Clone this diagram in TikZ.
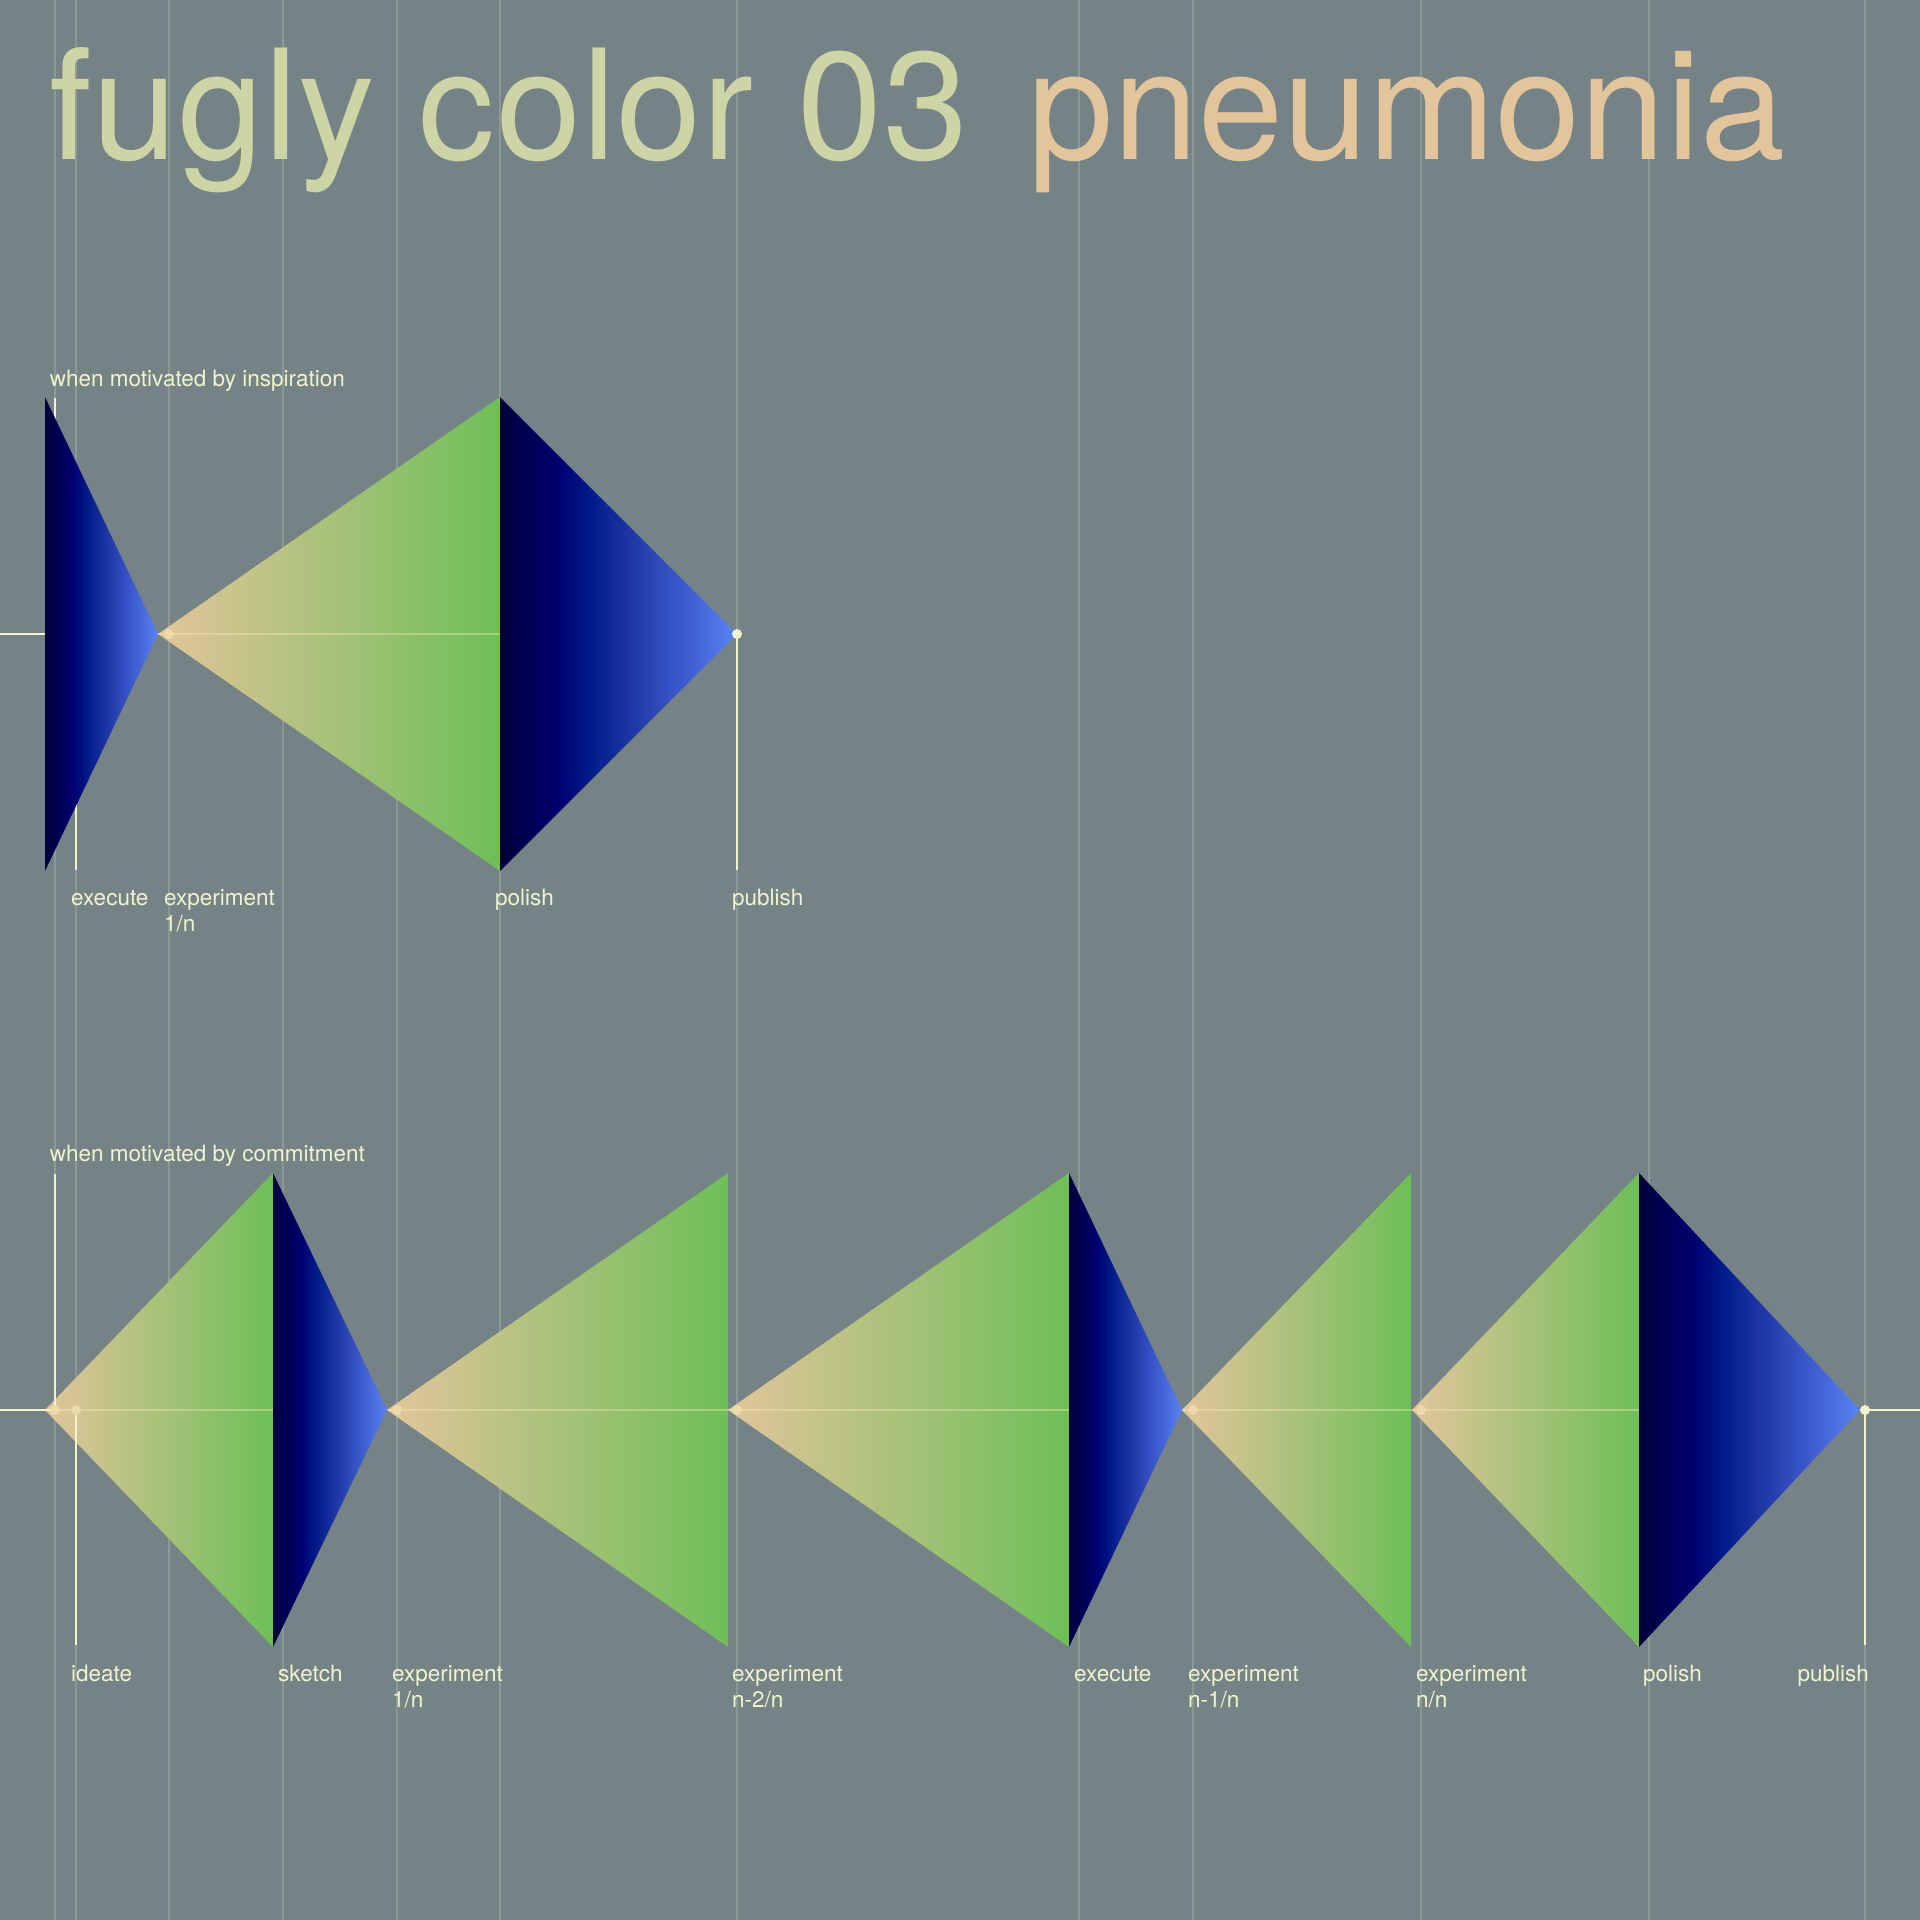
\documentclass[tikz,border=0pt]{standalone}
\usepackage{fontspec}
\setmainfont{TeX Gyre Heros}

\definecolor{slate}{HTML}{758386}
\definecolor{guidegray}{HTML}{8A9996}
\definecolor{sage}{HTML}{CDD5A6}
\definecolor{sand}{HTML}{E3C59B}
\definecolor{leaf}{HTML}{6DBF57}
\definecolor{cream}{HTML}{F0F4CC}
\definecolor{dotsand}{HTML}{EDD9AA}
\definecolor{spinesand}{HTML}{F7E8B8}
\definecolor{navyA}{HTML}{00003C}
\definecolor{navyB}{HTML}{000070}
\definecolor{navyC}{HTML}{001A88}
\definecolor{blueD}{HTML}{1E36A6}
\definecolor{blueE}{HTML}{4060D2}
\definecolor{blueF}{HTML}{5A84F4}

\pgfdeclarehorizontalshading{navyramp}{100bp}{color(0bp)=(navyA); color(25bp)=(navyA); color(37.5bp)=(navyB); color(43.5bp)=(navyC); color(52.5bp)=(blueD); color(65bp)=(blueE); color(75bp)=(blueF); color(100bp)=(blueF)}

\tikzset{
	guide/.style={draw=guidegray, line width=2pt},
	stem/.style={draw=cream, line width=2pt},
	spine/.style={draw=spinesand, line width=2pt, opacity=.4},
	greenfade/.style={left color=sand, right color=leaf},
	bluefade/.style={shading=navyramp},
	knot/.style={fill=dotsand},
	endknot/.style={fill=cream},
	lbl/.style={anchor=base west, inner sep=0pt, text=cream, font=\fontsize{22.5}{26}\selectfont},
	headline/.style={anchor=base west, inner sep=0pt, font=\fontsize{153}{180}\selectfont},
}

\begin{document}
\begin{tikzpicture}[x=1pt,y=-1pt]
	\useasboundingbox (0,0) rectangle (1920,1920);
	\fill[slate] (0,0) rectangle (1920,1920);

	\foreach \gx in {55,76,169,283,397,500,737,1079,1193,1421,1649,1865}
		\draw[guide] (\gx,0) -- (\gx,1920);

	\node[headline, text=sage] (fugly) at (49,159) {\addfontfeatures{LetterSpace=0.6}fugly color 03};
	\node[headline, text=sand] (pneumonia) at (1028,159) {pneumonia};

	% inspiration
	\coordinate (u-left) at (0,634);
	\coordinate (u-start) at (55,634);
	\coordinate (u-start-top) at (55,398);
	\coordinate (u-execute) at (76,634);
	\coordinate (u-exp) at (169,634);
	\coordinate (u-polish) at (500,634);
	\coordinate (u-publish) at (737,634);
	\coordinate (u-execute-end) at (76,870);
	\coordinate (u-publish-end) at (737,870);

	\shade[greenfade] (158,634) -- (500,397) -- (500,871) -- cycle;
	\draw[spine] (u-start) -- (u-publish);
	\draw[stem] (u-left) -- (u-start);
	\draw[stem] (u-start-top) -- (u-start);
	\draw[stem] (u-execute) -- (u-execute-end);
	\draw[stem] (u-publish) -- (u-publish-end);
	\shade[bluefade] (45,397) -- (158,634) -- (45,871) -- cycle;
	\shade[bluefade] (500,397) -- (737,634) -- (500,871) -- cycle;
	\fill[knot] (u-exp) circle (5);
	\fill[endknot] (u-publish) circle (5);

	\node[lbl] (u-title) at (49.7,386) {when motivated by inspiration};
	\node[lbl] (u-execute-l) at ([xshift=-5pt,yshift=-271pt]u-execute) {execute};
	\node[lbl] (u-exp-l) at ([xshift=-5pt,yshift=-271pt]u-exp) {experiment};
	\node[lbl] (u-exp-n) at ([yshift=-26pt]u-exp-l.base west) {1/n};
	\node[lbl] (u-polish-l) at ([xshift=-5pt,yshift=-271pt]u-polish) {polish};
	\node[lbl] (u-publish-l) at ([xshift=-5pt,yshift=-271pt]u-publish) {publish};

	% commitment
	\coordinate (l-left) at (0,1410);
	\coordinate (l-start) at (55,1410);
	\coordinate (l-start-top) at (55,1174);
	\coordinate (l-ideate) at (76,1410);
	\coordinate (l-sketch) at (283,1410);
	\coordinate (l-exp1) at (397,1410);
	\coordinate (l-exp2) at (737,1410);
	\coordinate (l-execute) at (1079,1410);
	\coordinate (l-exp3) at (1193,1410);
	\coordinate (l-exp4) at (1421,1410);
	\coordinate (l-polish) at (1649,1410);
	\coordinate (l-publish) at (1865,1410);
	\coordinate (l-right) at (1920,1410);
	\coordinate (l-ideate-end) at (76,1645);
	\coordinate (l-publish-end) at (1865,1645);

	\shade[greenfade] (45,1410) -- (273,1173) -- (273,1647) -- cycle;
	\shade[greenfade] (387,1410) -- (728,1173) -- (728,1647) -- cycle;
	\shade[greenfade] (728,1410) -- (1069,1173) -- (1069,1647) -- cycle;
	\shade[greenfade] (1182,1410) -- (1411,1173) -- (1411,1647) -- cycle;
	\shade[greenfade] (1412,1410) -- (1639,1173) -- (1639,1647) -- cycle;
	\draw[spine] (l-start) -- (l-publish);
	\draw[stem] (l-left) -- (l-start);
	\draw[stem] (l-start-top) -- (l-start);
	\draw[stem] (l-ideate) -- (l-ideate-end);
	\draw[stem] (l-publish) -- (l-publish-end);
	\draw[stem] (l-publish) -- (l-right);
	\shade[bluefade] (273,1173) -- (387,1410) -- (273,1647) -- cycle;
	\shade[bluefade] (1069,1173) -- (1182,1410) -- (1069,1647) -- cycle;
	\shade[bluefade] (1639,1173) -- (1860,1410) -- (1639,1647) -- cycle;
	\fill[knot] (l-start) circle (5);
	\fill[knot] (l-ideate) circle (5);
	\fill[knot] (l-exp1) circle (5);
	\fill[knot] (l-exp2) circle (5);
	\fill[knot] (l-exp3) circle (5);
	\fill[knot] (l-exp4) circle (5);
	\fill[endknot] (l-publish) circle (5);

	\node[lbl] (l-title) at (49.7,1161) {when motivated by commitment};
	\node[lbl] (l-ideate-l) at ([xshift=-5pt,yshift=-271pt]l-ideate) {ideate};
	\node[lbl] (l-sketch-l) at ([xshift=-5pt,yshift=-271pt]l-sketch) {sketch};
	\node[lbl] (l-exp1-l) at ([xshift=-5pt,yshift=-271pt]l-exp1) {experiment};
	\node[lbl] (l-exp1-n) at ([yshift=-26pt]l-exp1-l.base west) {1/n};
	\node[lbl] (l-exp2-l) at ([xshift=-5pt,yshift=-271pt]l-exp2) {experiment};
	\node[lbl] (l-exp2-n) at ([yshift=-26pt]l-exp2-l.base west) {n-2/n};
	\node[lbl] (l-execute-l) at ([xshift=-5pt,yshift=-271pt]l-execute) {execute};
	\node[lbl] (l-exp3-l) at ([xshift=-5pt,yshift=-271pt]l-exp3) {experiment};
	\node[lbl] (l-exp3-n) at ([yshift=-26pt]l-exp3-l.base west) {n-1/n};
	\node[lbl] (l-exp4-l) at ([xshift=-5pt,yshift=-271pt]l-exp4) {experiment};
	\node[lbl] (l-exp4-n) at ([yshift=-26pt]l-exp4-l.base west) {n/n};
	\node[lbl] (l-polish-l) at ([xshift=-6pt,yshift=-271pt]l-polish) {polish};
	\node[lbl, anchor=base east] (l-publish-l) at ([xshift=4pt,yshift=-271pt]l-publish) {publish};
\end{tikzpicture}
\end{document}
